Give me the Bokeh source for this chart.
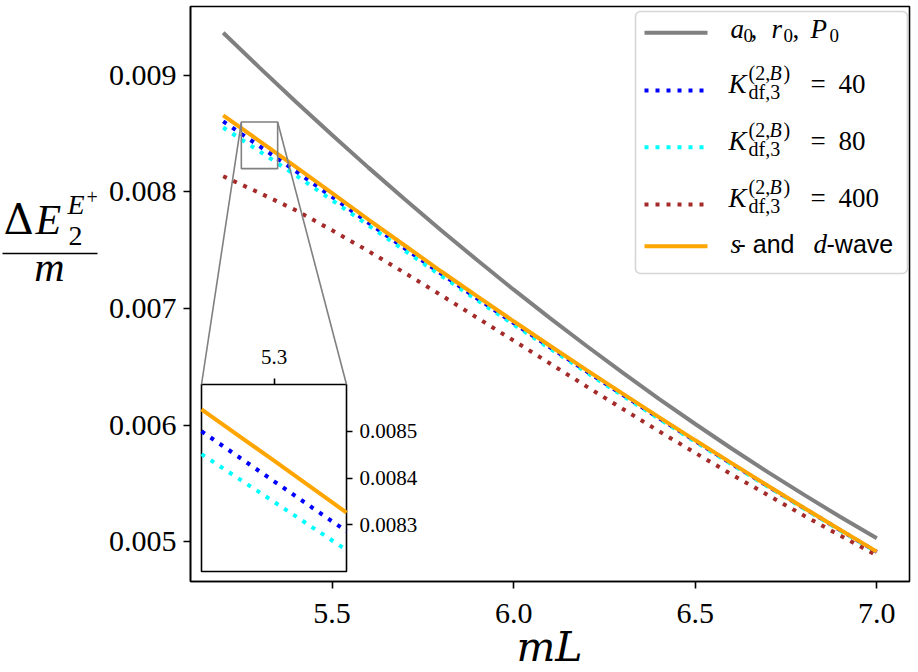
from bokeh.plotting import figure
from bokeh.models import (Range1d, FixedTicker, PrintfTickFormatter, Label,
                          Arrow, BoxAnnotation, LinearAxis)
from bokeh.embed import file_html
from bokeh.resources import INLINE

# ---- data -------------------------------------------------------------
mL = [5.2, 5.3, 5.4, 5.5, 5.6, 5.7, 5.8, 5.9, 6.0, 6.1,
      6.2, 6.3, 6.4, 6.5, 6.6, 6.7, 6.8, 6.9, 7.0]

# a0, r0, P0 only
dE_pheno = [0.009366, 0.009067, 0.008774, 0.008488, 0.008209, 0.007937, 0.007672,
            0.007414, 0.007162, 0.006918, 0.006681, 0.006450, 0.006226, 0.006010,
            0.005800, 0.005597, 0.005402, 0.005212, 0.005030]
# K_df,3^(2,B) = 40
dE_k40 = [0.008605, 0.008393, 0.008178, 0.007958, 0.007736, 0.007517, 0.007299,
          0.007086, 0.006876, 0.006668, 0.006463, 0.006261, 0.006061, 0.005864,
          0.005669, 0.005476, 0.005287, 0.005098, 0.004913]
# K_df,3^(2,B) = 80
dE_k80 = [0.008553, 0.008349, 0.008143, 0.007930, 0.007713, 0.007497, 0.007282,
          0.007071, 0.006863, 0.006657, 0.006454, 0.006253, 0.006055, 0.005858,
          0.005664, 0.005472, 0.005283, 0.005095, 0.004910]
# K_df,3^(2,B) = 400
dE_k400 = [0.008135, 0.007992, 0.007843, 0.007671, 0.007493, 0.007306, 0.007115,
           0.006920, 0.006725, 0.006529, 0.006333, 0.006140, 0.005948, 0.005762,
           0.005578, 0.005400, 0.005223, 0.005052, 0.004883]
# s- and d-wave
dE_sd = [0.008657, 0.008437, 0.008215, 0.007990, 0.007764, 0.007541, 0.007320,
         0.007104, 0.006891, 0.006681, 0.006474, 0.006270, 0.006069, 0.005870,
         0.005674, 0.005480, 0.005290, 0.005101, 0.004915]

# zoomed window 5.25 <= mL <= 5.35
inset_mL = [5.25, 5.30, 5.35]
inset_k40 = [0.008500, 0.008393, 0.008286]
inset_k80 = [0.008451, 0.008349, 0.008246]
inset_sd = [0.008547, 0.008437, 0.008326]

x_ticks = [5.5, 6.0, 6.5, 7.0]
y_ticks = [0.005, 0.006, 0.007, 0.008, 0.009]
inset_x_ticks = [5.3]
inset_y_ticks = [0.0083, 0.0084, 0.0085]

# ---- geometry (canvas pixels) -------------------------------------------
W, H = 918, 672
BOX_L, BOX_T, BOX_R, BOX_B = 190, 6, 909, 581          # main axes box
X_LIM = (5.11, 7.09)
Y_LIM = (0.004659, 0.009591)
INSET_X = (5.25, 5.35)
INSET_Y = (0.0082, 0.0086)
IN_L, IN_T, IN_R, IN_B = 201, 384, 346, 571            # inset axes box

SERIF = "Liberation Serif"
SANS = "Liberation Sans"
DOTS = "4 7"
BASELINE_SHIFT = 0.37   # label anchor sits this many em above the glyph baseline


def full_range(lo, hi, p_lo, p_hi, p_max, flip=False):
    """Data range spanning the whole canvas so that lo..hi fills p_lo..p_hi."""
    per_px = (hi - lo) / (p_hi - p_lo)
    if flip:   # vertical: pixel 0 is the top
        return Range1d(lo - (p_max - p_hi) * per_px, hi + p_lo * per_px)
    return Range1d(lo - p_lo * per_px, hi + (p_max - p_hi) * per_px)


def canvas_to_main(sx, sy):
    x = X_LIM[0] + (sx - BOX_L) / (BOX_R - BOX_L) * (X_LIM[1] - X_LIM[0])
    y = Y_LIM[1] - (sy - BOX_T) / (BOX_B - BOX_T) * (Y_LIM[1] - Y_LIM[0])
    return x, y


p = figure(width=W, height=H,
           x_range=full_range(*X_LIM, BOX_L, BOX_R, W),
           y_range=full_range(*Y_LIM, BOX_T, BOX_B, H, flip=True),
           output_backend="svg", toolbar_location=None,
           min_border_left=0, min_border_right=0,
           min_border_top=0, min_border_bottom=0)
p.extra_x_ranges = {"ix": full_range(*INSET_X, IN_L, IN_R, W)}
p.extra_y_ranges = {"iy": full_range(*INSET_Y, IN_T, IN_B, H, flip=True)}
p.background_fill_color = "white"
p.border_fill_color = "white"
p.outline_line_color = None
p.xgrid.visible = False
p.ygrid.visible = False


def style_axis(ax, font_px, tick_out, standoff, fmt):
    ax.major_label_text_font = SERIF
    ax.major_label_text_font_size = f"{font_px}px"
    ax.major_label_text_color = "black"
    ax.axis_line_color = "black"
    ax.axis_line_width = 1.6
    ax.major_tick_line_color = "black"
    ax.major_tick_line_width = 1.6
    ax.major_tick_in = 0
    ax.major_tick_out = tick_out
    ax.minor_tick_line_color = None
    ax.major_label_standoff = standoff
    ax.formatter = PrintfTickFormatter(format=fmt)


# main axes box
p.add_layout(BoxAnnotation(left=X_LIM[0], right=X_LIM[1], bottom=Y_LIM[0], top=Y_LIM[1],
                           fill_alpha=0, line_color="black", line_alpha=1,
                           line_width=1.6, level="underlay"))

xax = p.xaxis[0]
xax.ticker = FixedTicker(ticks=x_ticks)
xax.fixed_location = Y_LIM[0]
xax.bounds = X_LIM
style_axis(xax, 30, 7, 15, "%.1f")
yax = p.yaxis[0]
yax.ticker = FixedTicker(ticks=y_ticks)
yax.fixed_location = X_LIM[0]
yax.bounds = Y_LIM
style_axis(yax, 30, 7, 7, "%.3f")

series = [
    (dE_pheno, "gray", None),
    (dE_k40, "blue", DOTS),
    (dE_k80, "cyan", DOTS),
    (dE_k400, "brown", DOTS),
    (dE_sd, "orange", None),
]
for ys, color, dash in series:
    kw = dict(line_color=color, line_width=4)
    if dash:
        kw["line_dash"] = dash
    p.line(mL, ys, **kw)

# ---- inset --------------------------------------------------------------
p.add_layout(BoxAnnotation(left=INSET_X[0], right=INSET_X[1],
                           bottom=INSET_Y[0], top=INSET_Y[1],
                           x_range_name="ix", y_range_name="iy",
                           fill_color="white", fill_alpha=1,
                           line_color="black", line_alpha=1, line_width=1.6,
                           level="underlay"))
for ys, color, dash in [(inset_k40, "blue", DOTS), (inset_k80, "cyan", DOTS),
                        (inset_sd, "orange", None)]:
    kw = dict(line_color=color, line_width=4, x_range_name="ix", y_range_name="iy")
    if dash:
        kw["line_dash"] = dash
    p.line(inset_mL, ys, **kw)

ix_axis = LinearAxis(x_range_name="ix", y_range_name="iy",
                     fixed_location=INSET_Y[1], bounds=INSET_X,
                     ticker=FixedTicker(ticks=inset_x_ticks))
style_axis(ix_axis, 21, 6, 15, "%.1f")
ix_axis.axis_line_color = None
p.add_layout(ix_axis, "above")
iy_axis = LinearAxis(x_range_name="ix", y_range_name="iy",
                     fixed_location=INSET_X[1], bounds=INSET_Y,
                     ticker=FixedTicker(ticks=inset_y_ticks))
style_axis(iy_axis, 21, 6, 7, "%.4f")
iy_axis.axis_line_color = None
p.add_layout(iy_axis, "right")

# zoomed region marker and connectors to the inset's upper corners
p.add_layout(BoxAnnotation(left=INSET_X[0], right=INSET_X[1],
                           bottom=INSET_Y[0], top=INSET_Y[1],
                           fill_alpha=0, line_color="gray", line_alpha=1,
                           line_width=1.6))
for cx, corner_px in [(INSET_X[0], IN_L), (INSET_X[1], IN_R)]:
    ex, ey = canvas_to_main(corner_px, IN_T)
    p.add_layout(Arrow(x_start=cx, y_start=INSET_Y[1], x_end=ex, y_end=ey,
                       start=None, end=None, line_color="gray", line_width=1.6))


def tex(x, y, text, size, style="normal", font=SERIF, align="left"):
    """Place a text piece with its glyph baseline at canvas height y."""
    p.add_layout(Label(x=x, y=y - BASELINE_SHIFT * size,
                       x_units="canvas", y_units="canvas", text=text,
                       text_font=font, text_font_size=f"{size}px",
                       text_font_style=style, text_align=align,
                       text_baseline="alphabetic", text_color="black"))


def hline(x0, x1, y, color, width, dash=None):
    kw = dict(x_start=x0, y_start=y, x_end=x1, y_end=y,
              start_units="canvas", end_units="canvas", start=None, end=None,
              line_color=color, line_width=width)
    if dash:
        kw["line_dash"] = dash
    p.add_layout(Arrow(**kw))


# y-axis label: Delta E_2^{E+} / m
tex(3, 235, "Δ", 42, font="DejaVu Serif")
tex(35, 235, "E", 42, "italic")
tex(67, 214, "E", 28, "italic")
tex(86, 204, "+", 20)
tex(68, 246, "2", 28)
hline(2, 97, 253, "black", 1.6)
tex(49, 282, "m", 42, "italic", align="center")

# x-axis label
tex(549, 662, "mL", 41, "italic", font="DejaVu Serif", align="center")

# legend
p.add_layout(BoxAnnotation(left=635, right=907, top=11, bottom=273,
                           left_units="canvas", right_units="canvas",
                           top_units="canvas", bottom_units="canvas",
                           fill_color="white", fill_alpha=0.8,
                           line_color="#cccccc", line_alpha=0.8,
                           line_width=1.6, border_radius=5))
legend_rows = [32.3, 90, 146.7, 204, 245.7]
for (ys, color, dash), ly in zip(series, legend_rows):
    hline(644, 707, ly, color, 4, dash)

# a_0, r_0, P_0
tex(730, 38.5, "a", 27, "italic")
tex(743, 42.5, "0", 19)
tex(750, 38.5, ",", 27)
tex(771, 38.5, "r", 27, "italic")
tex(783, 42.5, "0", 19)
tex(792, 38.5, ",", 27)
tex(810, 38.5, "P", 27, "italic")
tex(829, 42.5, "0", 19)

# K_df,3^(2,B) = value
for base, val in [(93, "40"), (150, "80"), (207, "400")]:
    tex(728, base, "K", 27, "italic")
    tex(748, base - 13, "(2,", 20)
    tex(769, base - 13, "B", 20, "italic")
    tex(783, base - 13, ")", 20)
    tex(748, base + 6, "df,3", 20)
    tex(810, base, "=", 27)
    tex(838, base, val, 27)

# s- and d-wave
tex(730, 253, "s", 27, "italic")
tex(737, 253, "- and", 25, font=SANS)
tex(813, 253, "d", 27, "italic")
tex(826, 253, "-wave", 25, font=SANS)

open("out.html", "w").write(file_html(p, INLINE))
